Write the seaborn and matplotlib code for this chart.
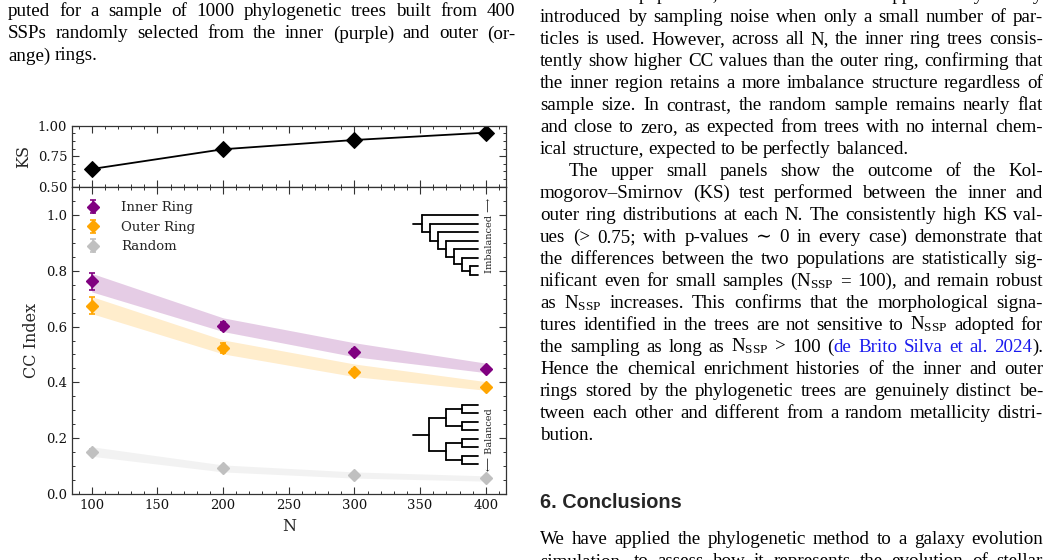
import numpy as np
import pandas as pd
import seaborn as sns
import matplotlib.pyplot as plt
from matplotlib.ticker import AutoMinorLocator, MultipleLocator, FormatStrFormatter

# --- data ---
N = [100, 200, 300, 400]
ks = [0.645, 0.807, 0.883, 0.943]

inner = [0.761, 0.602, 0.510, 0.449]
inner_err = [0.030, 0.015, 0.010, 0.007]
inner_lo = [0.724, 0.582, 0.492, 0.435]
inner_hi = [0.790, 0.631, 0.542, 0.469]

outer = [0.675, 0.522, 0.439, 0.384]
outer_err = [0.032, 0.018, 0.010, 0.007]
outer_lo = [0.646, 0.502, 0.421, 0.372]
outer_hi = [0.707, 0.552, 0.466, 0.403]

rand = [0.152, 0.093, 0.069, 0.057]
rand_err = [0.010, 0.006, 0.004, 0.004]
rand_lo = [0.136, 0.080, 0.058, 0.047]
rand_hi = [0.170, 0.105, 0.080, 0.066]

labels = ['Inner Ring', 'Outer Ring', 'Random']
colors = ['purple', 'orange', 'silver']

# --- surrounding page text ---
NSSP = r'N$_{\mathrm{SSP}}$'
left_lines = [
    (12, 'puted for a sample of 1000 phylogenetic trees built from 400', 'j'),
    (34, 'SSPs randomly selected from the inner (purple) and outer (or-', 'j'),
    (56, 'ange) rings.', 'l'),
]
right_lines = [
    'come more populated, which reduces the apparent asymmetry',
    'introduced by sampling noise when only a small number of par-',
    'ticles is used. However, across all N, the inner ring trees consis-',
    'tently show higher CC values than the outer ring, confirming that',
    'the inner region retains a more imbalance structure regardless of',
    'sample size. In contrast, the random sample remains nearly flat',
    'and close to zero, as expected from trees with no internal chem-',
    '*ical structure, expected to be perfectly balanced.',
    '>The upper small panels show the outcome of the Kol-',
    'mogorov\u2013Smirnov (KS) test performed between the inner and',
    'outer ring distributions at each N. The consistently high KS val-',
    'ues (> 0.75; with p-values \u223c 0 in every case) demonstrate that',
    'the differences between the two populations are statistically sig-',
    'nificant even for small samples (' + NSSP + ' = 100), and remain robust',
    'as ' + NSSP + ' increases. This confirms that the morphological signa-',
    'tures identified in the trees are not sensitive to ' + NSSP + ' adopted for',
    'the sampling as long as ' + NSSP + ' > 100 (§de Brito Silva et al. 2024§).',
    'Hence the chemical enrichment histories of the inner and outer',
    'rings stored by the phylogenetic trees are genuinely distinct be-',
    'tween each other and different from a random metallicity distri-',
    '*bution.',
]

W, H = 1058, 560
SERIF = ['Liberation Serif', 'DejaVu Serif']
BODY = 13.7
LINK = '#1a1aee'

sns.set_theme(style='ticks', rc={
    'xtick.direction': 'in', 'ytick.direction': 'in',
    'xtick.top': True, 'ytick.right': True,
    'xtick.minor.visible': True, 'ytick.minor.visible': True,
    'xtick.major.size': 5, 'ytick.major.size': 5,
    'xtick.minor.size': 2.5, 'ytick.minor.size': 2.5,
    'xtick.major.width': 0.8, 'ytick.major.width': 0.8,
    'xtick.minor.width': 0.7, 'ytick.minor.width': 0.7,
    'axes.edgecolor': '#333333', 'axes.linewidth': 0.9,
    'xtick.color': '#333333', 'ytick.color': '#333333',
    'xtick.labelcolor': '#111111', 'ytick.labelcolor': '#111111',
})
plt.rcParams['font.family'] = ['DejaVu Serif', 'DejaVu Sans']
plt.rcParams['mathtext.fontset'] = 'custom'
plt.rcParams['mathtext.rm'] = 'Liberation Serif'
plt.rcParams['mathtext.it'] = 'Liberation Serif:italic'

fig = plt.figure(figsize=(W / 100, H / 100), dpi=100)
rend = fig.canvas.get_renderer()


def put_line(text, yc, x0, x1, justify=True, size=BODY):
    # draw one line of page text, spreading words from x0 to x1
    yb = 1 - (yc + 4.5) / H
    words, blue = [], False
    for tok in text.split(' '):
        parts = tok.split('§')
        word = []
        for i, p in enumerate(parts):
            if i > 0:
                blue = not blue
            if p:
                t = fig.text(0, yb, p, fontsize=size, family=SERIF,
                             color=LINK if blue else 'black', va='baseline')
                word.append((t, t.get_window_extent(renderer=rend).width))
        words.append(word)
    total = sum(w for word in words for _, w in word)
    if justify and len(words) > 1:
        gap = (x1 - x0 - total) / (len(words) - 1)
    else:
        gap = 0.25 * size * 100 / 72
    x = x0
    for word in words:
        for t, w in word:
            t.set_x(x / W)
            x += w
        x += gap


for yc, txt, mode in left_lines:
    put_line(txt, yc, 8, 515, justify=(mode == 'j'))

for k, txt in enumerate(right_lines):
    yc = -4 + 21.95 * k
    x0, just = 540, True
    if txt.startswith('*'):
        txt, just = txt[1:], False
    if txt.startswith('>'):
        txt, x0 = txt[1:], 569
    put_line(txt, yc, x0, 1043, justify=just)

fig.text(540 / W, 1 - 508 / H, '6. Conclusions', fontsize=14.3, fontweight='bold',
         family=['Liberation Sans', 'DejaVu Sans'], va='baseline')
put_line('We have applied the phylogenetic method to a galaxy evolution', 540, 540, 1043)
put_line('simulation, to assess how it represents the evolution of stellar', 562, 540, 1043)

# --- chart ---
ax_ks = fig.add_axes([72 / W, 1 - 186.7 / H, 433.5 / W, 61 / H])
ax = fig.add_axes([72 / W, 1 - 494.3 / H, 433.5 / W, 307.6 / H])

df_ks = pd.DataFrame({'N': N, 'KS': ks})
sns.lineplot(data=df_ks, x='N', y='KS', ax=ax_ks, color='black', marker='D',
             markersize=8, markeredgecolor='black', linewidth=1.3)
ax_ks.set_xlim(85, 415)
ax_ks.set_ylim(0.5, 1.0)
ax_ks.xaxis.set_major_locator(MultipleLocator(50))
ax_ks.xaxis.set_minor_locator(AutoMinorLocator(5))
ax_ks.yaxis.set_major_locator(MultipleLocator(0.25))
ax_ks.yaxis.set_minor_locator(AutoMinorLocator(4))
ax_ks.yaxis.set_major_formatter(FormatStrFormatter('%.2f'))
ax_ks.tick_params(labelbottom=False, labelsize=9.5)
ax_ks.set_xlabel('')
ax_ks.set_ylabel('KS', fontsize=11.5)

series = [
    (inner, inner_err, inner_lo, inner_hi),
    (outer, outer_err, outer_lo, outer_hi),
    (rand, rand_err, rand_lo, rand_hi),
]
for (y, err, lo, hi), lab, c in zip(series, labels, colors):
    ax.fill_between(N, lo, hi, color=c, alpha=0.2, linewidth=0, zorder=1)
    ax.errorbar(N, y, yerr=err, fmt='D', color=c, ms=6.5, capsize=2,
                elinewidth=1.2, capthick=1.2, label=lab, zorder=3)

ax.set_xlim(85, 415)
ax.set_ylim(0, 1.1)
ax.xaxis.set_major_locator(MultipleLocator(50))
ax.xaxis.set_minor_locator(AutoMinorLocator(5))
ax.yaxis.set_major_locator(MultipleLocator(0.2))
ax.yaxis.set_minor_locator(AutoMinorLocator(4))
ax.yaxis.set_major_formatter(FormatStrFormatter('%.1f'))
ax.tick_params(labelsize=9.5)
ax.set_xlabel('N', fontsize=11.5)
ax.set_ylabel('CC Index', fontsize=11.5)
ax.legend(loc='upper left', frameon=False, fontsize=9.5, handlelength=1.0,
          handletextpad=1.6, labelspacing=0.5, borderaxespad=0.7)


def draw_tree(node, depth, state, x0, dx, xleaf):
    # leaves are 0, internal nodes are lists; returns (y, x) of the node
    if node == 0:
        y = state['y']
        state['y'] -= state['dy']
        return y, xleaf
    x = x0 + depth * dx
    ys = []
    for child in node:
        cy, cx = draw_tree(child, depth + 1, state, x0, dx, xleaf)
        ax.plot([x, cx], [cy, cy], color='black', lw=1.3,
                transform=ax.transAxes, clip_on=False, zorder=4)
        ys.append(cy)
    ax.plot([x, x], [min(ys), max(ys)], color='black', lw=1.3,
            transform=ax.transAxes, clip_on=False, zorder=4)
    return (min(ys) + max(ys)) / 2, x


caterpillar = [0, [0, [0, [0, [0, [0, [0, 0]]]]]]]
balanced = [[[0, 0], [0, 0]], [[0, 0], [0, 0]]]

yr, xr = draw_tree(caterpillar, 0, {'y': 0.907, 'dy': 0.0277}, 0.8067, 0.01845, 0.9359)
ax.plot([0.7873, xr], [yr, yr], color='black', lw=1.3, transform=ax.transAxes, zorder=4)
yr, xr = draw_tree(balanced, 0, {'y': 0.2903, 'dy': 0.0274}, 0.8242, 0.0374, 0.9359)
ax.plot([0.7873, xr], [yr, yr], color='black', lw=1.3, transform=ax.transAxes, zorder=4)

ax.text(0.964, 0.843, 'Imbalanced \u27f6', rotation=90, transform=ax.transAxes,
        fontsize=7, ha='center', va='center', color='#222222')
ax.text(0.964, 0.177, '\u27f5 Balanced', rotation=90, transform=ax.transAxes,
        fontsize=7, ha='center', va='center', color='#222222')

fig.savefig('out.png', dpi=100)
